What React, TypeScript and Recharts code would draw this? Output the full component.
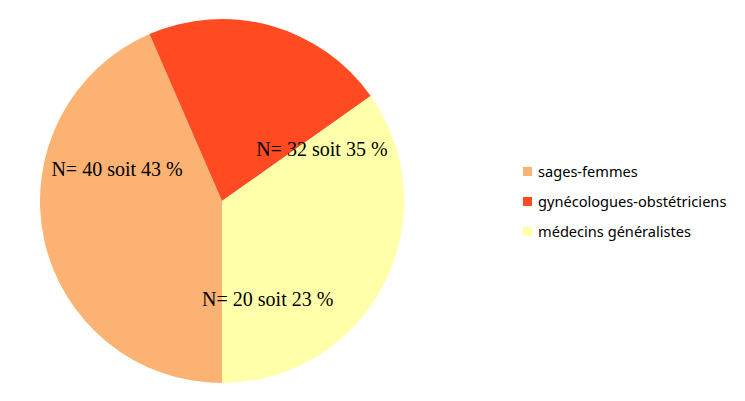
import { PieChart, Pie, Cell } from 'recharts'

const categories = ['sages-femmes', 'gynécologues-obstétriciens', 'médecins généralistes']
const counts = [40, 20, 32]
const percents = [43, 23, 35]
const colors = ['#FBB272', '#FF4A22', '#FFFFAA']

// where each label sits: compass angle (deg) and fraction of the radius
const labelSpots = [
  { angle: 287, r: 0.603 },
  { angle: 155, r: 0.595 },
  { angle: 62.5, r: 0.619 },
]

const data = categories.map((name, i) => ({ name, value: counts[i] }))

function renderLabel(props: any) {
  const { cx, cy, outerRadius, index } = props
  const spot = labelSpots[index]
  const rad = (spot.angle * Math.PI) / 180
  const x = cx + Math.sin(rad) * outerRadius * spot.r
  const y = cy - Math.cos(rad) * outerRadius * spot.r
  return (
    <text
      x={x}
      y={y}
      textAnchor="middle"
      dominantBaseline="central"
      fill="#000"
      fontFamily="'Liberation Serif', serif"
      fontSize={20}
    >
      {`N= ${counts[index]} soit ${percents[index]} %`}
    </text>
  )
}

function ChartLegend() {
  return (
    <div
      style={{
        position: 'absolute',
        left: 523,
        top: 156,
        fontFamily: "'Noto Sans', sans-serif",
        fontSize: 14.6,
        color: '#000',
      }}
    >
      {categories.map((name, i) => (
        <div key={name} style={{ display: 'flex', alignItems: 'center', height: 30 }}>
          <span style={{ width: 9, height: 9, background: colors[i], marginRight: 6, display: 'inline-block' }} />
          {name}
        </div>
      ))}
    </div>
  )
}

export default function App() {
  return (
    <div style={{ position: 'absolute', left: 0, top: 0, width: 745, height: 401, background: '#fff' }}>
      <PieChart width={745} height={401} margin={{ top: 0, right: 0, bottom: 0, left: 0 }}>
        <Pie
          data={data}
          dataKey="value"
          nameKey="name"
          cx={222}
          cy={201}
          outerRadius={182}
          startAngle={-90}
          endAngle={-450}
          stroke="none"
          label={renderLabel}
          labelLine={false}
          isAnimationActive={false}
        >
          {data.map((d, i) => (
            <Cell key={d.name} fill={colors[i]} />
          ))}
        </Pie>
      </PieChart>
      <ChartLegend />
    </div>
  )
}
